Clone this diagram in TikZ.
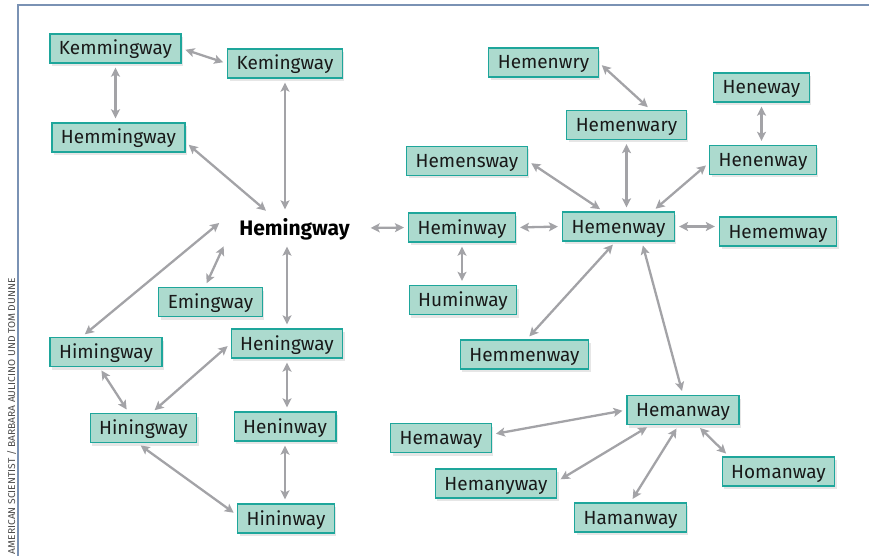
\documentclass[tikz,border=0pt]{standalone}
\usepackage{fontspec}
\setmainfont{Fira Sans}
\usetikzlibrary{arrows.meta,shadows}

\definecolor{boxfill}{RGB}{172,218,206}
\definecolor{boxline}{RGB}{30,166,155}
\definecolor{linkgray}{RGB}{163,163,167}
\definecolor{framecol}{RGB}{122,146,180}

\begin{document}
\begin{tikzpicture}[
	%	style def
    x=1pt, y=-1pt,
    word box/.style={draw=boxline, fill=boxfill, line width=1.3pt, inner xsep=9pt, inner ysep=0pt,
        minimum height=29pt, text height=14pt, text depth=1pt, text=black!90,
        font=\fontsize{19}{19}\selectfont,
        drop shadow={shadow xshift=2pt, shadow yshift=-3pt, opacity=0.2}},
    main word/.style={inner xsep=0pt, inner ysep=0pt, minimum width=144pt, minimum height=29pt,
        text height=16pt, text depth=1pt, font=\fontsize{21}{21}\selectfont\bfseries},
    link line/.style={draw=linkgray, line width=2.3pt,
        {Stealth[length=9pt,width=9pt,inset=2pt]}-{Stealth[length=9pt,width=9pt,inset=2pt]},
        shorten <=4pt, shorten >=4pt}
    ]
    \useasboundingbox (0,0) rectangle (869,556);

    % frame and credit line
    \draw[framecol, line width=1.2pt] (18,560) -- (18,5) -- (875,5);
    \node[rotate=90, anchor=base east, inner sep=0pt, text=black!70] (credit) at (15,278)
        {\resizebox{276pt}{8pt}{AMERICAN SCIENTIST / BARBARA AULICINO UND TOM DUNNE}};

    % the word in the middle
    \node[main word] (hem) at (294.5,228) {Hemingway};

    % left cluster
    \node[word box] (kemm) at (115.5,48.5) {Kemmingway};
    \node[word box] (kem) at (285,63.5) {Kemingway};
    \node[word box] (hemm) at (118.5,137.5) {Hemmingway};
    \node[word box] (eming) at (210.5,302) {Emingway};
    \node[word box] (himing) at (106,352) {Himingway};
    \node[word box] (hening) at (287,343.5) {Heningway};
    \node[word box] (hining) at (143.5,428) {Hiningway};
    \node[word box] (heninw) at (285,426.5) {Heninway};
    \node[word box] (hininw) at (286,518.5) {Hininway};

    % right cluster
    \node[word box] (heminw) at (462,227.5) {Heminway};
    \node[word box] (huminw) at (463,300) {Huminway};
    \node[word box] (hemenw) at (618.5,226.5) {Hemenway};
    \node[word box] (hemensw) at (467,161) {Hemensway};
    \node[word box] (hemenwary) at (626.5,125) {Hemenwary};
    \node[word box] (hemenwry) at (543.5,62.5) {Hemenwry};
    \node[word box] (heneway) at (761.5,87.5) {Heneway};
    \node[word box] (henenw) at (763,160) {Henenway};
    \node[word box] (hememw) at (778,231.5) {Hememway};
    \node[word box] (hemmenw) at (524.5,354.5) {Hemmenway};

    % bottom right cluster
    \node[word box] (hemanw) at (683,410) {Hemanway};
    \node[word box] (hemaw) at (441,438) {Hemaway};
    \node[word box] (hemanyw) at (496,483.5) {Hemanyway};
    \node[word box] (homanw) at (778.5,471.5) {Homanway};
    \node[word box] (hamanw) at (630.5,517.5) {Hamanway};

    % connections on the left
    \draw[link line] (kemm.east) -- (kem.west);
    \draw[link line] (kemm.south) -- (kemm.south |- hemm.north);
    \draw[link line] (kem.south) -- (kem.south |- hem.north);
    \draw[link line] (hemm.-4) -- (hem.150);
    \draw[link line] (hem.174) -- (himing.148);
    \draw[link line] (hem.192) -- (eming.110);
    \draw[link line] (hem.south -| hening.north) -- (hening.north);
    \draw[link line] (himing.246) -- (hining.134);
    \draw[link line] (hining.62) -- (hening.west);
    \draw[link line] (hening.south) -- (hening.south |- heninw.north);
    \draw[link line] (heninw.south) -- (heninw.south |- hininw.north);
    \draw[link line] (hining.248) -- (hininw.176);
    \draw[link line] (hem.east) -- (heminw.west);

    % connections on the right
    \draw[link line] (heminw.east) -- (hemenw.west);
    \draw[link line] (heminw.south) -- (heminw.south |- huminw.north);
    \draw[link line] (hemenw.east) -- (hemenw.east -| hememw.west);
    \draw[link line] (hemensw.east) -- (hemenw.135);
    \draw[link line] (hemenwary.south) -- (hemenwary.south |- hemenw.north);
    \draw[link line] (hemenwry.east) -- (hemenwary.32);
    \draw[link line] (heneway.south) -- (heneway.south |- henenw.north);
    \draw[link line] (henenw.183) -- (hemenw.24);
    \draw[link line] (hemenw.259) -- (hemmenw.82);
    \draw[link line] (hemenw.327) -- (hemanw.north);

    % around Hemanway
    \draw[link line] (hemaw.4) -- (hemanw.west);
    \draw[link line] (hemanyw.2) -- (hemanw.205);
    \draw[link line] (hamanw.north) -- (hemanw.254);
    \draw[link line] (homanw.163) -- (hemanw.313);
\end{tikzpicture}
\end{document}
